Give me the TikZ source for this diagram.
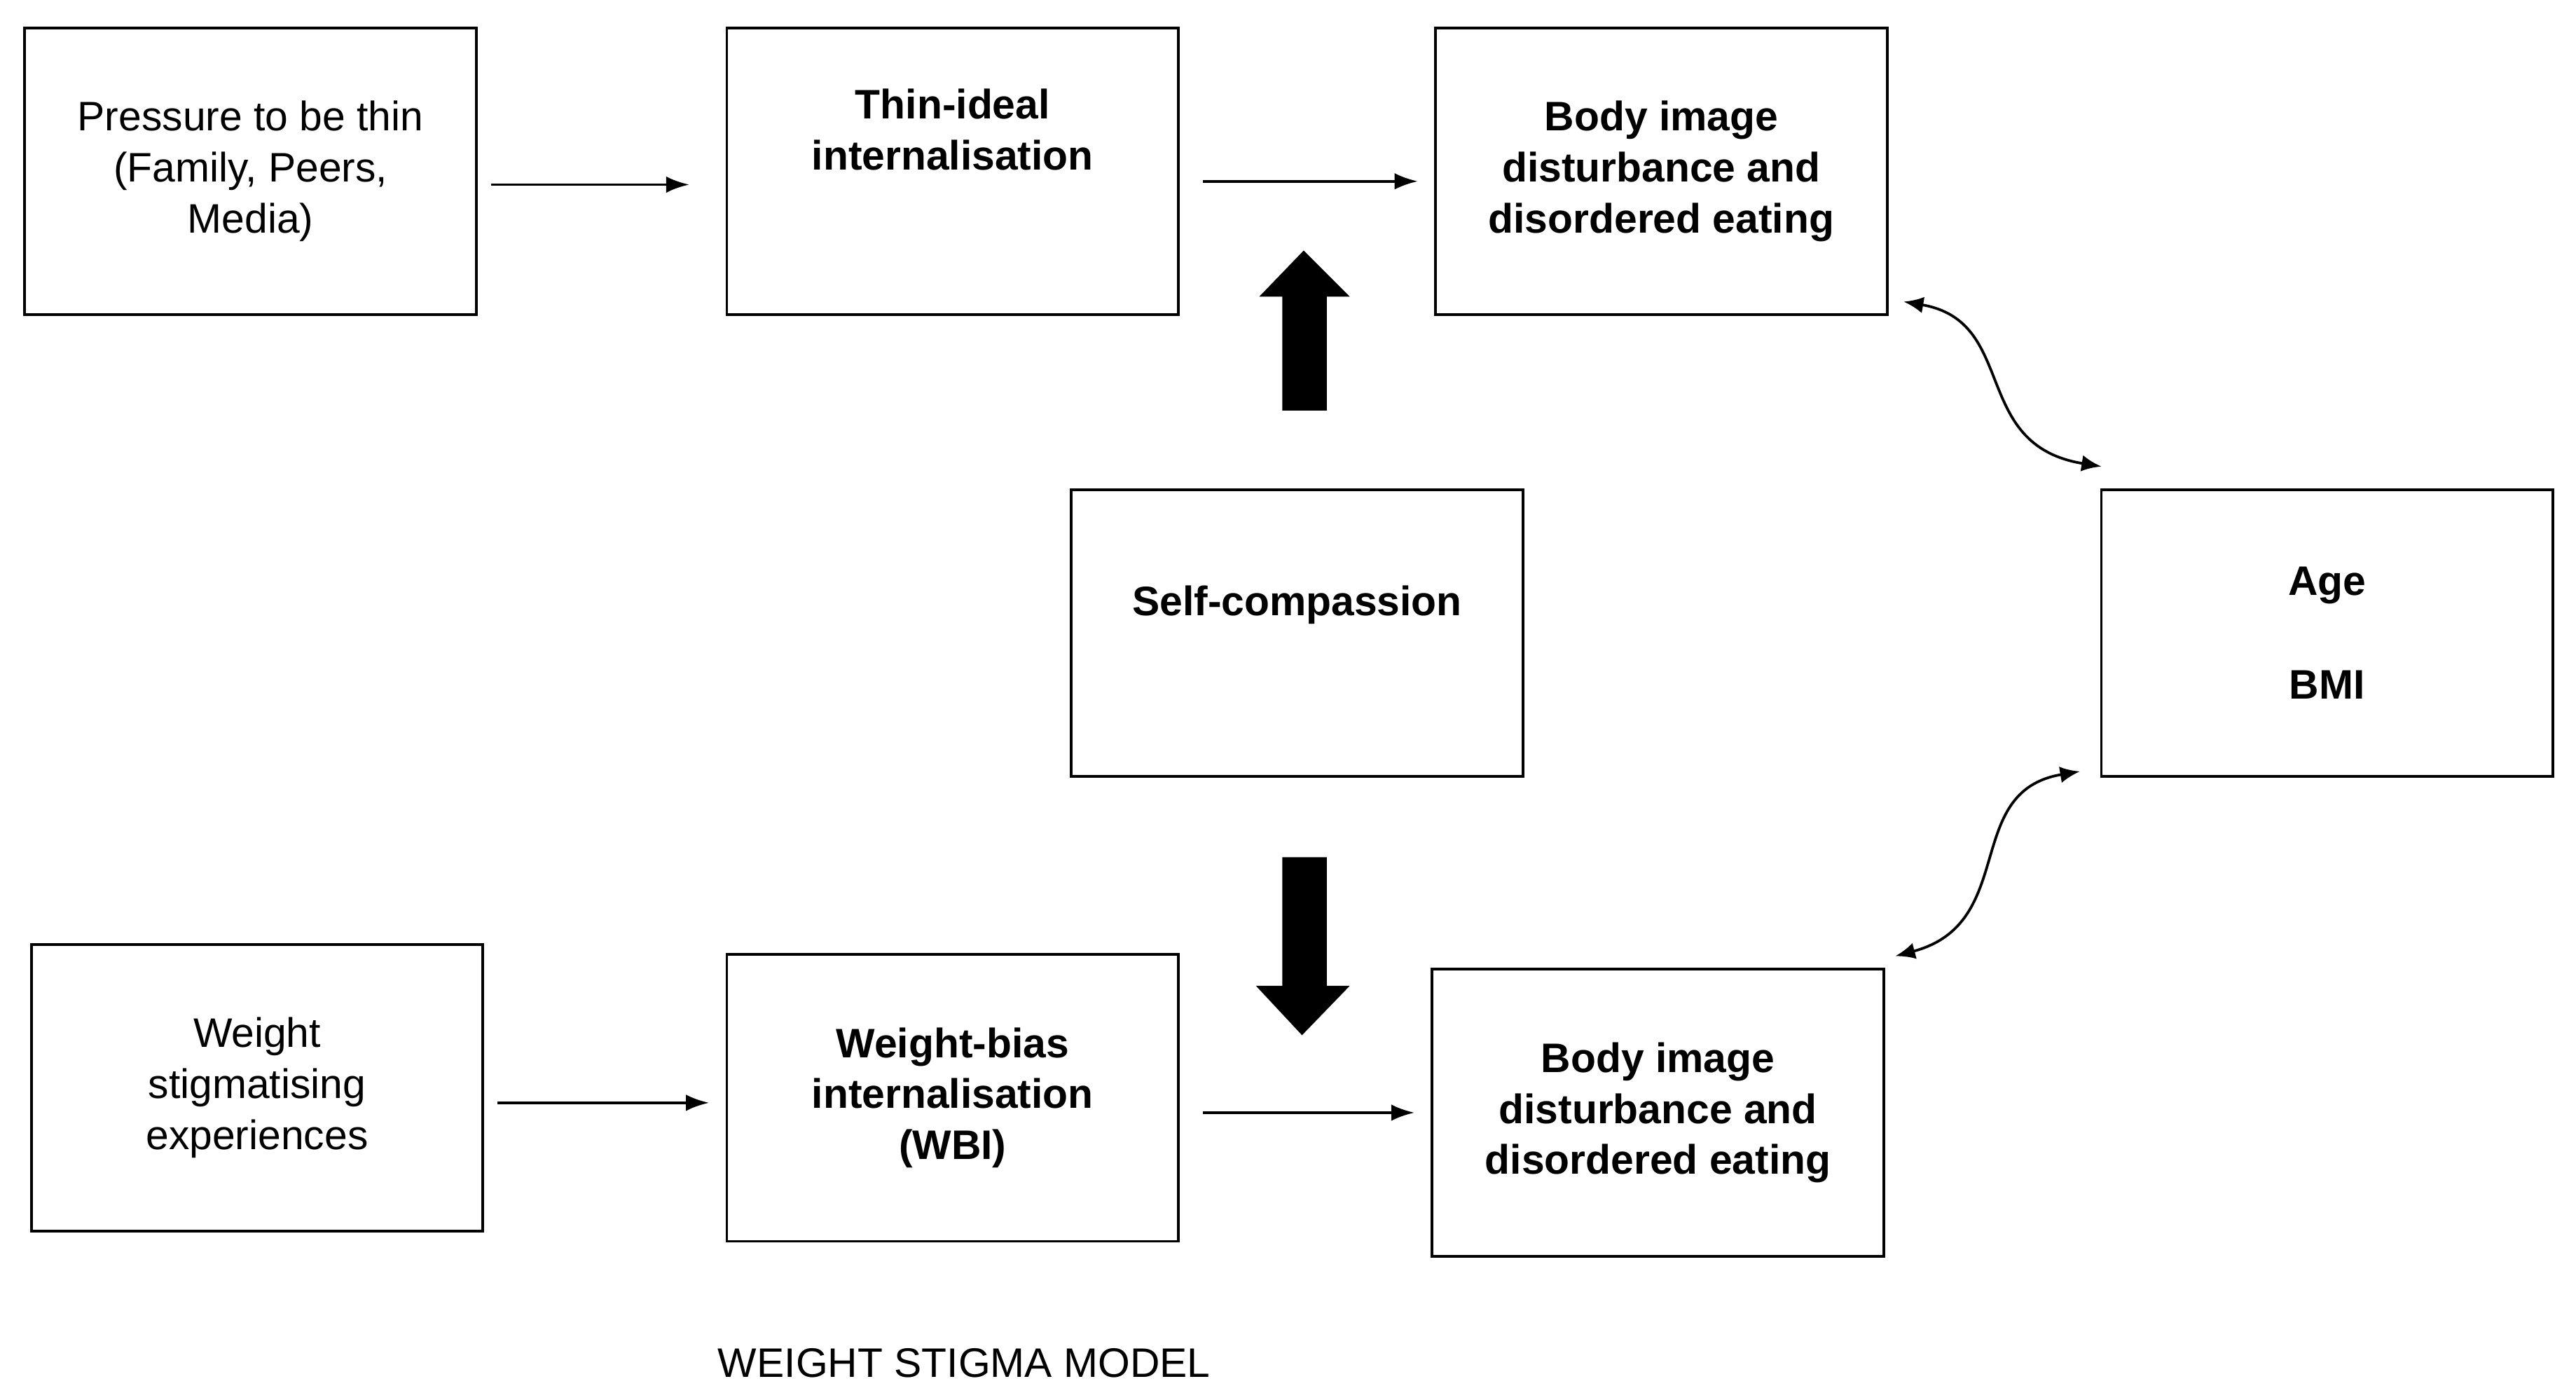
\documentclass[tikz,border=0pt]{standalone}
\usepackage{fontspec}
\setmainfont{Liberation Sans}
\usetikzlibrary{arrows.meta}
\begin{document}
\begin{tikzpicture}[x=0.5pt,y=-0.5pt,
 box/.style={draw,line width=0.8pt,minimum width=137pt,minimum height=87pt,align=center,font=\fontsize{12.5}{15.5}\selectfont},
 bb/.style={box,font=\fontsize{12.5}{15.5}\selectfont\bfseries},
 arr/.style={-{Latex[length=7pt,width=5pt]},line width=0.8pt},
 dbl/.style={{Latex[length=6pt,width=5pt]}-{Latex[length=6pt,width=5pt]},line width=0.8pt},
 thick arrow/.style={fill=black}]
\useasboundingbox (0,0) rectangle (1563,849);
\node[box] (P) at (152,104) {Pressure to be thin\\(Family, Peers,\\Media)};
\node[bb] (T) at (578,104) {Thin-ideal\\internalisation\\[10pt]};
\node[bb] (B1) at (1008,104) {Body image\\disturbance and\\disordered eating};
\node[bb] (S) at (787,384) {Self-compassion\\[4pt]};
\node[bb] (A) at (1412,384) {Age\\[16pt]BMI};
\node[box] (W) at (156,660) {Weight\\stigmatising\\experiences};
\node[bb] (WB) at (578,666) {Weight-bias\\internalisation\\(WBI)};
\node[bb] (B2) at (1006,675) {Body image\\disturbance and\\disordered eating};
\draw[arr] (P.east |- 0,112) ++(8,0) -- ([xshift=-11pt]T.west |- 0,112);
\draw[arr] ([xshift=7pt]T.east |- 0,110) -- ([xshift=-5pt]B1.west |- 0,110);
\draw[arr] ([xshift=4pt]W.east |- 0,669) -- ([xshift=-5pt]WB.west |- 0,669);
\draw[arr] ([xshift=7pt]WB.east |- 0,675) -- ([xshift=-5pt]B2.west |- 0,675);
\fill (778,249) -- (778,180) -- (764,180) -- (791,152) -- (819,180) -- (805,180) -- (805,249) -- cycle;
\fill (778,520) -- (778,598) -- (762,598) -- (790,628) -- (819,598) -- (805,598) -- (805,520) -- cycle;
\coordinate (c1) at (1155,183);
\coordinate (c2) at (1275,283);
\coordinate (c3) at (1262,468);
\coordinate (c4) at (1150,580);
\draw[dbl] (c1) .. controls (1225,195) and (1195,270) .. (c2);
\draw[dbl] (c3) .. controls (1190,480) and (1225,560) .. (c4);
\node[font=\fontsize{12.5}{15}\selectfont] (cap) at (585,827) {WEIGHT STIGMA MODEL};
\end{tikzpicture}
\end{document}
